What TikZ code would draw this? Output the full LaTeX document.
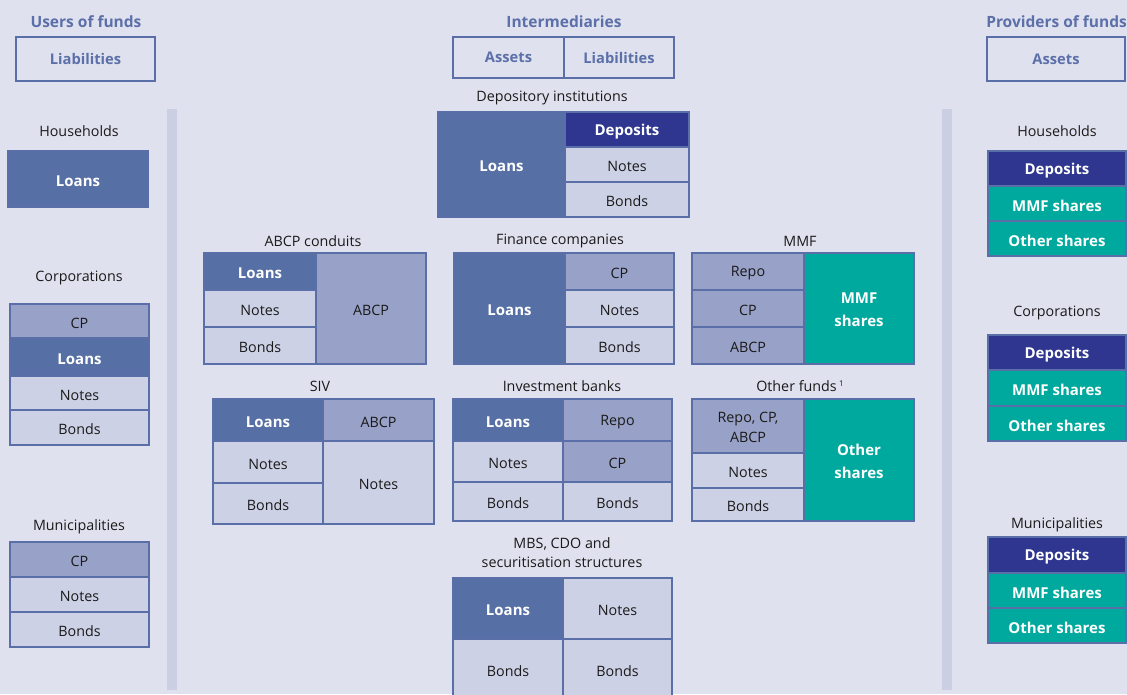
\documentclass[tikz,border=0pt]{standalone}
\usepackage{fontspec}
\setmainfont{Open Sans}
\definecolor{bgc}{HTML}{E0E1EE}
\definecolor{barc}{HTML}{CBCFE3}
\definecolor{loanc}{HTML}{566FA5}
\definecolor{litec}{HTML}{CDD1E5}
\definecolor{midc}{HTML}{98A1C7}
\definecolor{depc}{HTML}{2E368F}
\definecolor{tealc}{HTML}{00A99D}
\definecolor{bordc}{HTML}{5A6EA7}
\definecolor{titc}{HTML}{5B6FA9}
\definecolor{txtc}{HTML}{1A1A1A}
% cell: name, x1, y1, x2, y2, style, text  (text shifted down slightly)
\newcommand\cell[7]{%
  \path[cellbox, #6] (#2,#3) rectangle (#4,#5);
  \node[#6, celltxt] (#1) at ({(#2+#4)/2},{(#3+#5)/2+2}) {#7};}
\newcommand\cellii[7]{%
  \path[cellbox, #6] (#2,#3) rectangle (#4,#5);
  \node[#6, celltxt] (#1) at ({(#2+#4)/2},{(#3+#5)/2+1}) {#7};}
\newcommand\hcell[6]{%
  \pgfmathsetmacro\cw{#4-#2}\pgfmathsetmacro\ch{#5-#3}%
  \node[hdr, minimum width=\cw pt, minimum height=\ch pt] (#1) at ({(#2+#4)/2},{(#3+#5)/2}) {#6};}
\tikzset{
  cellbox/.style={line width=2.6pt, draw=bordc},
  celltxt/.style={inner sep=0pt, outer sep=0pt, align=center, fill=none, draw=none},
  loan/.style={fill=loanc, text=white, font=\fontsize{15}{20}\selectfont\bfseries},
  lite/.style={fill=litec, text=txtc, font=\fontsize{14.3}{20}\selectfont},
  mid/.style={fill=midc, text=txtc, font=\fontsize{14.3}{20}\selectfont},
  dep/.style={fill=depc, text=white, font=\fontsize{15}{20}\selectfont\bfseries},
  teal/.style={fill=tealc, text=white, font=\fontsize{15}{23}\selectfont\bfseries},
  hdr/.style={inner sep=0pt, outer sep=0pt, line width=1.3pt, draw=bordc, text=titc, font=\fontsize{14.7}{18}\selectfont\bfseries},
  ttl/.style={text=titc, font=\fontsize{15.5}{18}\selectfont\bfseries, inner sep=0pt},
  lbl/.style={text=txtc, font=\fontsize{14.3}{19}\selectfont, inner sep=0pt, align=center},
}
\begin{document}
\begin{tikzpicture}[x=1pt,y=-1pt]
\useasboundingbox (0,0) rectangle (1127,694);
\fill[bgc] (0,0) rectangle (1127,694);
% vertical bars
\fill[barc] (167,109) rectangle (177,690);
\fill[barc] (942,109) rectangle (952,690);
% headers
\node[ttl] (tU) at (86,22) {Users of funds};
\node[ttl] (tI) at (564,22) {Intermediaries};
\node[ttl, anchor=east] (tP) at (1127,22) {Providers of funds};
\hcell{hUL}{16}{37}{155}{81}{Liabilities}
\hcell{hIA}{453}{37}{564}{78}{Assets}
\hcell{hIL}{564}{37}{674}{78}{Liabilities}
\hcell{hPA}{987}{37}{1125}{81}{Assets}
% left column
\node[lbl] (lH) at (79,131) {Households};
\cell{lHL}{8}{151}{148}{207}{loan}{Loans}
\node[lbl] (lC) at (79,278) {Corporations};
\cell{lC1}{10}{304}{149}{338}{mid}{CP}
\cell{lC2}{10}{338}{149}{376}{loan}{Loans}
\cell{lC3}{10}{376}{149}{410}{lite}{Notes}
\cell{lC4}{10}{410}{149}{445}{lite}{Bonds}
\node[lbl] (lM) at (79,527) {Municipalities};
\cell{lM1}{10}{542}{149}{577}{mid}{CP}
\cell{lM2}{10}{577}{149}{612}{lite}{Notes}
\cell{lM3}{10}{612}{149}{647}{lite}{Bonds}
% right column
\node[lbl] (rH) at (1057,131) {Households};
\cell{rH1}{988}{151}{1126}{186}{dep}{Deposits}
\cell{rH2}{988}{186}{1126}{221}{teal}{MMF shares}
\cell{rH3}{988}{221}{1126}{256}{teal}{Other shares}
\node[lbl] (rC) at (1057,313) {Corporations};
\cell{rC1}{988}{335}{1126}{370}{dep}{Deposits}
\cell{rC2}{988}{370}{1126}{406}{teal}{MMF shares}
\cell{rC3}{988}{406}{1126}{441}{teal}{Other shares}
\node[lbl] (rM) at (1057,525) {Municipalities};
\cell{rM1}{988}{537}{1126}{573}{dep}{Deposits}
\cell{rM2}{988}{573}{1126}{608}{teal}{MMF shares}
\cell{rM3}{988}{608}{1126}{643}{teal}{Other shares}
% depository institutions
\node[lbl] (dT) at (552,98) {Depository institutions};
\cell{dL}{438}{112}{565}{217}{loan}{Loans}
\cell{dD}{565}{112}{689}{147}{dep}{Deposits}
\cell{dN}{565}{147}{689}{182}{lite}{Notes}
\cell{dB}{565}{182}{689}{217}{lite}{Bonds}
% ABCP conduits
\node[lbl] (aT) at (313,241) {ABCP conduits};
\cell{aL}{204}{253}{316}{290}{loan}{Loans}
\cell{aN}{204}{290}{316}{327}{lite}{Notes}
\cell{aB}{204}{327}{316}{364}{lite}{Bonds}
\cell{aA}{316}{253}{426}{364}{mid}{ABCP}
% Finance companies
\node[lbl] (fT) at (560,241) {Finance companies};
\cell{fL}{454}{253}{565}{364}{loan}{Loans}
\cell{fC}{565}{253}{674}{290}{mid}{CP}
\cell{fN}{565}{290}{674}{327}{lite}{Notes}
\cell{fB}{565}{327}{674}{364}{lite}{Bonds}
% MMF
\node[lbl] (mT) at (800,241) {MMF};
\cell{mR}{692}{253}{804}{290}{mid}{Repo}
\cell{mC}{692}{290}{804}{327}{mid}{CP}
\cell{mA}{692}{327}{804}{364}{mid}{ABCP}
\cellii{mS}{804}{253}{914}{364}{teal}{MMF\\shares}
% SIV
\node[lbl] (sT) at (320,386) {SIV};
\cell{sL}{213}{399}{323}{441}{loan}{Loans}
\cell{sA}{323}{399}{434}{441}{mid}{ABCP}
\cell{sN}{213}{441}{323}{483}{lite}{Notes}
\cell{sB}{213}{483}{323}{524}{lite}{Bonds}
\cell{sN2}{323}{441}{434}{524}{lite}{Notes}
% Investment banks
\node[lbl] (iT) at (562,386) {Investment banks};
\cell{iL}{453}{399}{563}{441}{loan}{Loans}
\cell{iN}{453}{441}{563}{482}{lite}{Notes}
\cell{iB}{453}{482}{563}{521}{lite}{Bonds}
\cell{iR}{563}{399}{672}{441}{mid}{Repo}
\cell{iC}{563}{441}{672}{482}{mid}{CP}
\cell{iB2}{563}{482}{672}{521}{lite}{Bonds}
% Other funds
\node[lbl] (oT) at (800,386) {Other funds\,\raisebox{0.7ex}{\fontsize{8}{9}\selectfont 1}};
\cellii{oR}{692}{399}{804}{453}{mid}{Repo, CP,\\ABCP}
\cell{oN}{692}{453}{804}{488}{lite}{Notes}
\cell{oB}{692}{488}{804}{521}{lite}{Bonds}
\cellii{oS}{804}{399}{914}{521}{teal}{Other\\shares}
% MBS
\node[lbl] (bT) at (562,553) {MBS, CDO and\\securitisation structures};
\cell{bL}{453}{578}{563}{639}{loan}{Loans}
\cell{bN}{563}{578}{672}{639}{lite}{Notes}
\cell{bB1}{453}{639}{563}{700}{lite}{Bonds}
\cell{bB2}{563}{639}{672}{700}{lite}{Bonds}
\end{tikzpicture}
\end{document}
